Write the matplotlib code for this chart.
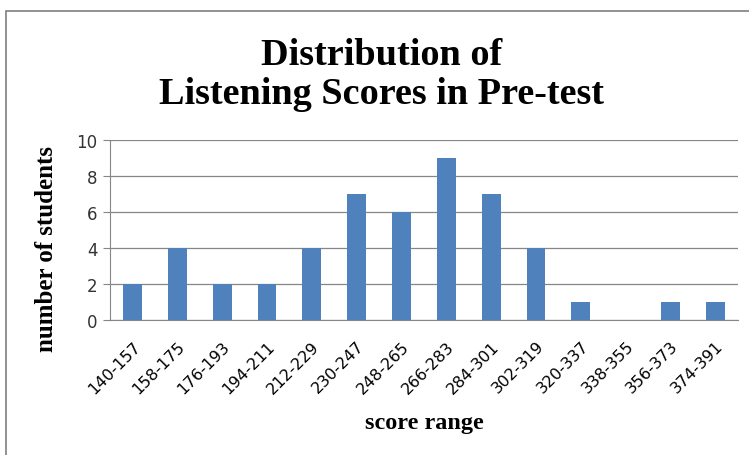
import matplotlib
matplotlib.use("Agg")
import matplotlib.pyplot as plt
from matplotlib.patches import Rectangle

ranges = ["140-157", "158-175", "176-193", "194-211", "212-229", "230-247", "248-265",
          "266-283", "284-301", "302-319", "320-337", "338-355", "356-373", "374-391"]
students = [2, 4, 2, 2, 4, 7, 6, 9, 7, 4, 1, 0, 1, 1]

fig = plt.figure(figsize=(7.49, 4.56), dpi=100)
ax = fig.add_axes([0.147, 0.296, 0.838, 0.395])

# outer chart border like the Excel frame
fig.patches.append(Rectangle((6 / 749, -0.1), 1.2, 1 - 12 / 456 + 0.1, transform=fig.transFigure,
                             fill=False, edgecolor="#7f7f7f", linewidth=1.2))

x = range(len(ranges))
ax.bar(x, students, width=0.42, color="#4f81bd", zorder=3)

ax.set_xlim(-0.5, len(ranges) - 0.5)
ax.set_ylim(0, 10)
ax.set_yticks(range(0, 11, 2))
ax.set_xticks(list(x))
ax.set_xticklabels(ranges, rotation=45, ha="right", rotation_mode="anchor", fontsize=11.5,
                   family="DejaVu Sans")
ax.tick_params(axis="x", length=0, pad=13)
ax.tick_params(axis="y", length=5, color="#868686", labelsize=12, pad=4)
for t in ax.get_yticklabels():
    t.set_family("DejaVu Sans")
    t.set_color("#333333")

ax.grid(axis="y", color="#868686", linewidth=0.9, zorder=0)
for s in ["top", "right"]:
    ax.spines[s].set_visible(False)
ax.spines["left"].set_color("#868686")
ax.spines["bottom"].set_color("#868686")

fig.text(0.51, 0.835, "Distribution of\nListening Scores in Pre-test", ha="center", va="center",
         fontsize=27.5, fontweight="bold", family="Liberation Serif", linespacing=1.15)
fig.text(0.062, 0.453, "number of students", rotation=90, ha="center", va="center",
         fontsize=18, fontweight="bold", family="Liberation Serif")
fig.text(0.567, 0.072, "score range", ha="center", va="center",
         fontsize=17.5, fontweight="bold", family="Liberation Serif")

fig.savefig("out.png", dpi=100)
